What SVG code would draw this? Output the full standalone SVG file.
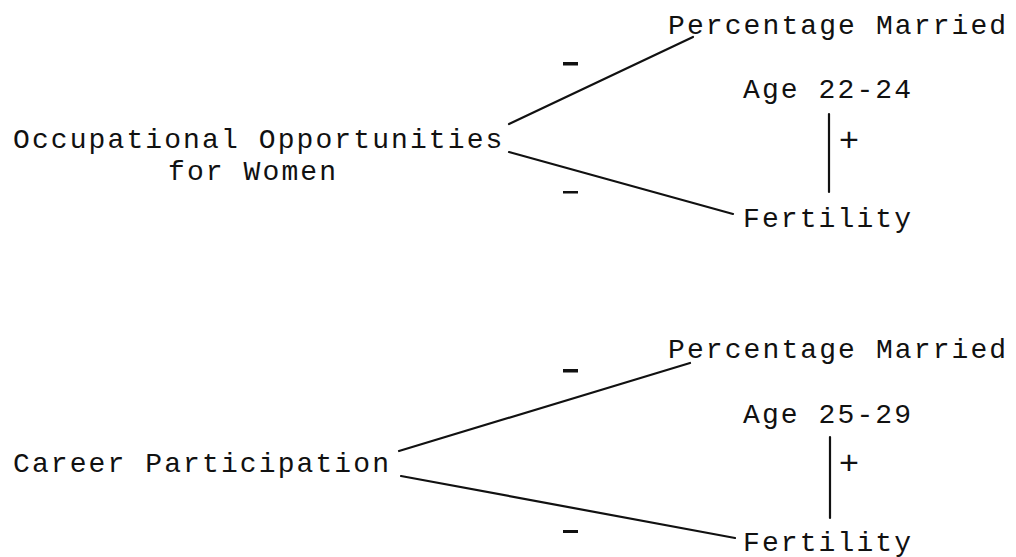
<svg xmlns="http://www.w3.org/2000/svg" width="1016" height="557" viewBox="0 0 1016 557">
<style>
text{font-family:"Liberation Mono","Courier New",monospace;font-size:28px;letter-spacing:2.1px;fill:#111}
.sign{font-size:34px;letter-spacing:0}
.c line{stroke:#111;stroke-width:2.2;stroke-linecap:round}
.m{fill:#111}
</style>
<rect width="1016" height="557" fill="#fff"/>
<g id="occ"><text x="13" y="148">Occupational Opportunities</text><text x="168" y="180">for Women</text></g>
<g id="pm1"><text x="668" y="34">Percentage Married</text><text x="743" y="98">Age 22-24</text></g>
<g id="fert1"><text x="743" y="227">Fertility</text></g>
<g id="career"><text x="13" y="472">Career Participation</text></g>
<g id="pm2"><text x="668" y="358">Percentage Married</text><text x="743" y="423">Age 25-29</text></g>
<g id="fert2"><text x="743" y="551">Fertility</text></g>
<g id="connectors" class="c">
<line x1="509" y1="124" x2="693" y2="37"/>
<line x1="509" y1="152" x2="733" y2="214"/>
<line x1="829" y1="114" x2="829" y2="192"/>
<line x1="399" y1="451" x2="690" y2="363"/>
<line x1="401" y1="476" x2="735" y2="538"/>
<line x1="830" y1="437" x2="830" y2="518"/>
</g>
<g id="labels">
<rect class="m" x="563" y="62" width="15" height="3.5"/>
<rect class="m" x="563" y="191" width="15" height="2.5"/>
<rect class="m" x="563" y="369" width="15" height="3.5"/>
<rect class="m" x="563" y="530" width="15" height="3"/>
<text class="sign" x="849" y="151" text-anchor="middle">+</text>
<text class="sign" x="849" y="474" text-anchor="middle">+</text>
</g>
</svg>
